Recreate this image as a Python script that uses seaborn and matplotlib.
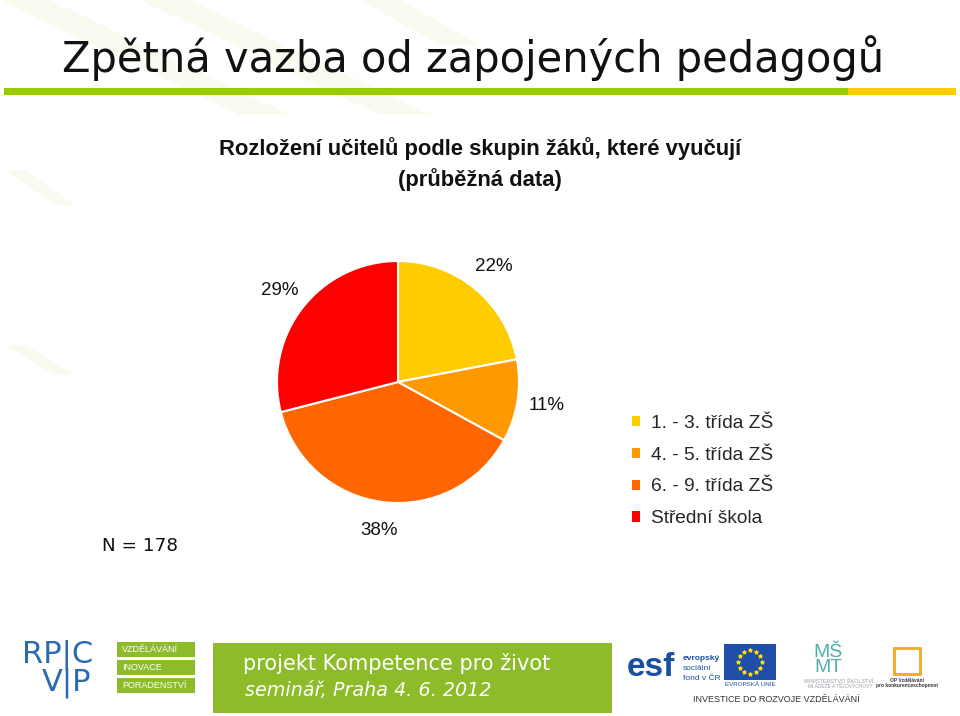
import matplotlib
matplotlib.use("Agg")
import matplotlib.pyplot as plt
import seaborn as sns
import numpy as np
from matplotlib.patches import Rectangle, Polygon

# data
groups = ["1. - 3. třída ZŠ", "4. - 5. třída ZŠ", "6. - 9. třída ZŠ", "Střední škola"]
shares = [22, 11, 38, 29]
colors = ["#FFCC00", "#FF9900", "#FF6600", "#FF0000"]
n_total = 178

title = "Zpětná vazba od zapojených pedagogů"
subtitle = "Rozložení učitelů podle skupin žáků, které vyučují\n(průběžná data)"

sns.set_theme(style="white")
plt.rcParams["font.family"] = ["Liberation Sans", "DejaVu Sans"]

fig = plt.figure(figsize=(9.6, 7.16), dpi=100)
fig.patch.set_facecolor("white")

# slide layer in pixel coordinates
bg = fig.add_axes([0, 0, 1, 1])
bg.set_xlim(0, 960)
bg.set_ylim(716, 0)
bg.axis("off")

# faint diagonal stripes in the background
for pts in [[(0, 0), (50, 0), (290, 115), (240, 115)],
            [(140, 0), (190, 0), (430, 115), (380, 115)],
            [(5, 170), (25, 170), (75, 205), (55, 205)],
            [(5, 345), (25, 345), (75, 375), (55, 375)],
            [(360, 0), (400, 0), (480, 45), (440, 45)]]:
    bg.add_patch(Polygon(pts, closed=True, facecolor="#f8fbf0", edgecolor="none", zorder=0))

bg.text(62, 58, title, fontsize=30, family=["DejaVu Sans"], va="center", ha="left", color="#111111")
bg.add_patch(Rectangle((4, 88), 844, 7, facecolor="#99CC00", edgecolor="none"))
bg.add_patch(Rectangle((848, 88), 108, 7, facecolor="#FFCC00", edgecolor="none"))

bg.text(480, 164, subtitle, fontsize=15.8, fontweight="bold", ha="center", va="center",
        linespacing=1.45, color="#111111")

bg.text(102, 546, f"N = {n_total}", fontsize=13.2, family=["DejaVu Sans"], va="center", color="#111111")

# footer
blue = "#2a6ab0"
bg.text(22, 655, "RP|C", fontsize=22, color=blue, va="center", family=["DejaVu Sans"])
bg.text(42, 683, "V|P", fontsize=22, color=blue, va="center", family=["DejaVu Sans"])
for i, word in enumerate(["VZDĚLÁVÁNÍ", "INOVACE", "PORADENSTVÍ"]):
    y0 = 642 + i * 18
    bg.add_patch(Rectangle((117, y0), 78, 15, facecolor="#8DBB2A", edgecolor="none"))
    bg.text(122, y0 + 7.5, word, fontsize=6.5, color="white", va="center")

bg.add_patch(Rectangle((213, 643), 399, 70, facecolor="#8DBB2A", edgecolor="none"))
bg.text(243, 664, "projekt Kompetence pro život", fontsize=15, color="white", va="center",
        family=["DejaVu Sans"])
bg.text(245, 690, "seminář, Praha 4. 6. 2012", fontsize=13.8, color="white", va="center",
        style="italic", family=["DejaVu Sans"])

bg.text(627, 668, "esf", fontsize=24, fontweight="bold", color="#1a4fa0", va="center")
bg.text(683, 658, "evropský", fontsize=6, fontweight="bold", color="#1a4fa0", va="center")
bg.text(683, 668, "sociální", fontsize=6, color="#1a4fa0", va="center")
bg.text(683, 678, "fond v ČR", fontsize=6, color="#1a4fa0", va="center")
bg.add_patch(Rectangle((724, 644), 52, 36, facecolor="#1f4fa8", edgecolor="none"))
ang = np.linspace(0, 2 * np.pi, 12, endpoint=False)
bg.scatter(750 + 12 * np.cos(ang), 662 + 12 * np.sin(ang), marker="*", s=6, color="#FFDD00", zorder=3)
bg.text(750, 685, "EVROPSKÁ UNIE", fontsize=4.5, color="#1a4fa0", ha="center", va="center")
bg.text(828, 660, "MŠ\nMT", fontsize=14, color="#4fb0a8", ha="center", va="center", linespacing=0.8)
bg.text(840, 680, "MINISTERSTVO ŠKOLSTVÍ,", fontsize=4, color="#9aa0a6", ha="center", va="center")
bg.text(840, 686, "MLÁDEŽE A TĚLOVÝCHOVY", fontsize=3.5, color="#9aa0a6", ha="center", va="center")
bg.add_patch(Rectangle((894, 648), 26, 26, facecolor="none", edgecolor="#F5A623", lw=2))
bg.text(907, 681, "OP Vzdělávání", fontsize=3.5, fontweight="bold", color="#333333", ha="center", va="center")
bg.text(907, 686, "pro konkurenceschopnost", fontsize=3.5, fontweight="bold", color="#333333", ha="center", va="center")
bg.text(776, 700, "INVESTICE DO ROZVOJE VZDĚLÁVÁNÍ", fontsize=6.5, color="#333333", ha="center", va="center")

# pie: centre (398, 382), radius 121 px
cx, cy, r = 398, 382, 121
ax = fig.add_axes([(cx - r) / 960, (716 - cy - r) / 716, 2 * r / 960, 2 * r / 716])
wedges, texts, autotexts = ax.pie(
    shares, colors=colors, startangle=90, counterclock=False,
    autopct="%1.0f%%", pctdistance=1.24,
    wedgeprops=dict(edgecolor="white", linewidth=1.5),
    textprops=dict(fontsize=13.5, color="#111111"),
)
ax.set_xlim(-1, 1)
ax.set_ylim(-1, 1)
ax.set_aspect("equal")
ax.axis("off")

# legend
leg = fig.legend(wedges, groups, loc="upper left", bbox_to_anchor=(622 / 960, 1 - 405 / 716),
                 frameon=False, fontsize=13.8, handlelength=0.45, handleheight=0.45,
                 handletextpad=0.55, labelspacing=0.78, borderpad=0)
for h in leg.legend_handles:
    h.set_edgecolor("none")

fig.savefig("out.png", dpi=100, facecolor="white")
